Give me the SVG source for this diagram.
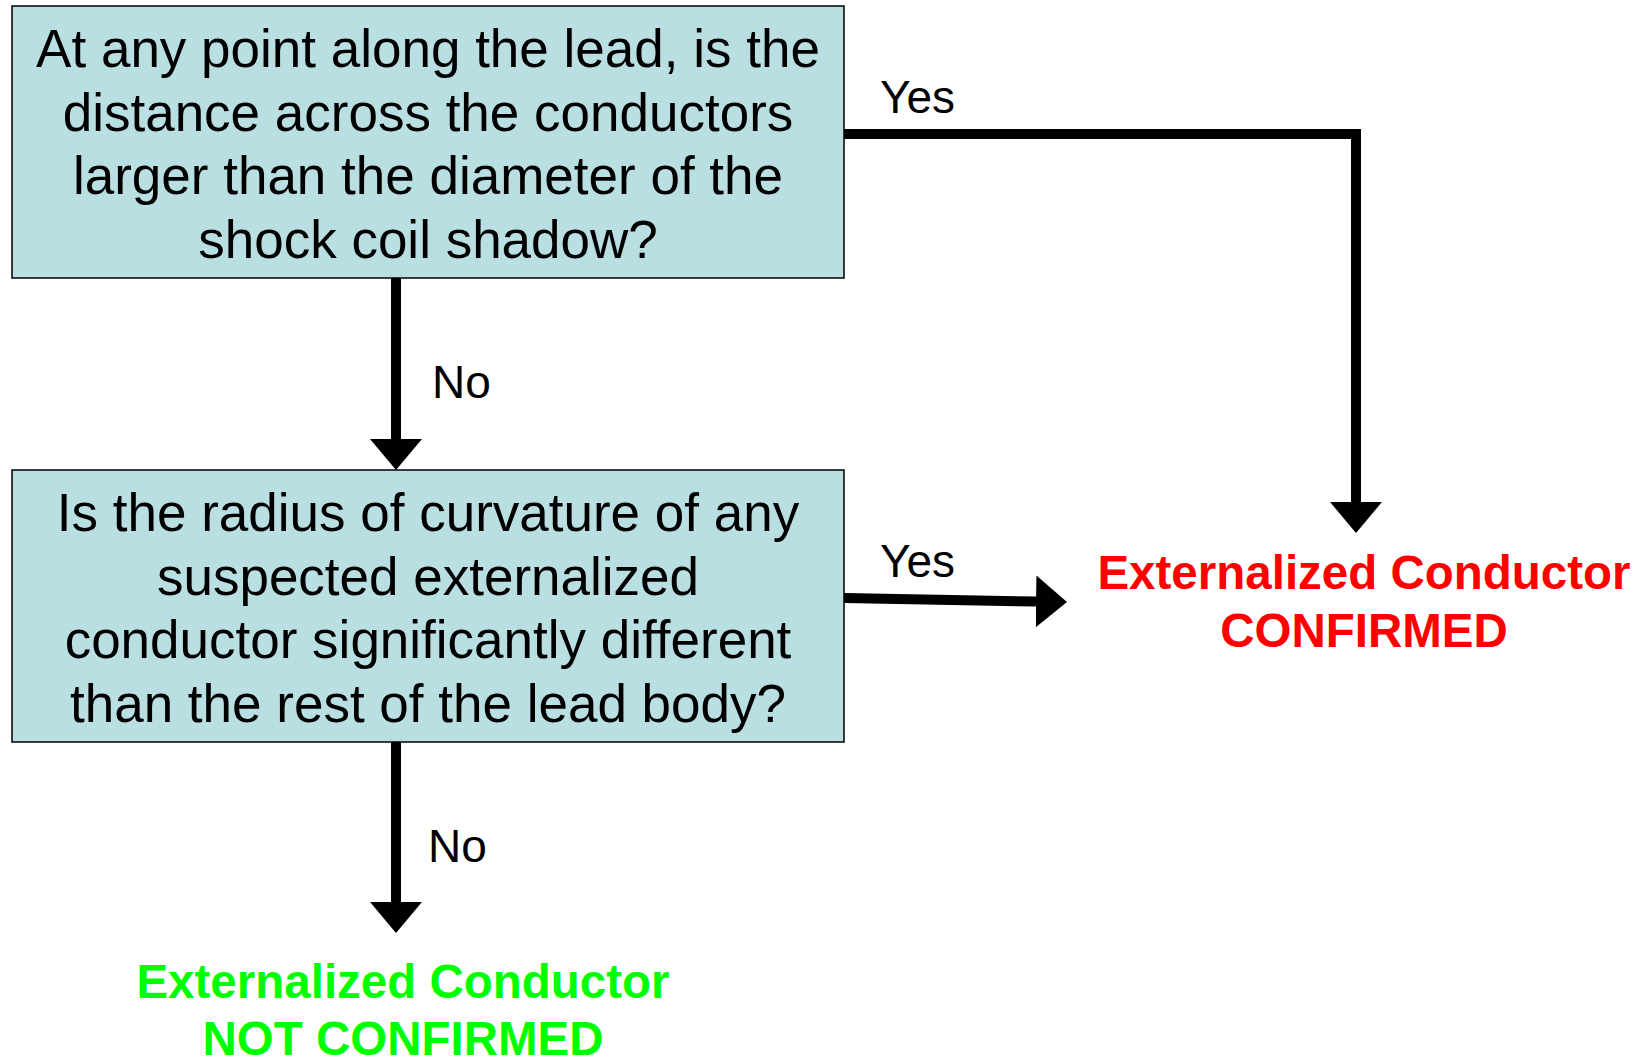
<svg xmlns="http://www.w3.org/2000/svg" width="1651" height="1058" viewBox="0 0 1651 1058">
<style>
.box{fill:#B9DFE3;stroke:#000;stroke-width:1.5}
.q{font-family:"Liberation Sans",Arial,sans-serif;font-size:53px;fill:#000;text-anchor:middle}
.lbl{font-family:"Liberation Sans",Arial,sans-serif;font-size:46px;fill:#000}
.res{font-family:"Liberation Sans",Arial,sans-serif;font-size:47.5px;font-weight:bold;text-anchor:middle}
.conn{fill:none;stroke:#000;stroke-width:10;marker-end:url(#ah)}
</style>
<defs>
<marker id="ah" markerUnits="userSpaceOnUse" markerWidth="32" markerHeight="54" refX="0" refY="26" orient="auto" viewBox="0 0 32 54">
<path d="M0,0 L31,26 L0,52 Z" fill="#000"/>
</marker>
</defs>
<rect width="1651" height="1058" fill="#fff"/>
<g id="connectors">
<path class="conn" d="M844,134 H1356 V502"/>
<path class="conn" d="M396,278 V439"/>
<path class="conn" d="M844,598 L1036,601.5"/>
<path class="conn" d="M396,742 V902"/>
<text class="lbl" x="880" y="113">Yes</text>
<text class="lbl" x="432" y="398">No</text>
<text class="lbl" x="880" y="577">Yes</text>
<text class="lbl" x="428" y="862">No</text>
</g>
<g id="q1">
<rect class="box" x="12" y="6" width="832" height="272"/>
<text class="q" x="428" y="67">At any point along the lead, is the</text>
<text class="q" x="428" y="130.5">distance across the conductors</text>
<text class="q" x="428" y="194">larger than the diameter of the</text>
<text class="q" x="428" y="257.5">shock coil shadow?</text>
</g>
<g id="q2">
<rect class="box" x="12" y="470" width="832" height="272"/>
<text class="q" x="428" y="531">Is the radius of curvature of any</text>
<text class="q" x="428" y="594.5">suspected externalized</text>
<text class="q" x="428" y="658">conductor significantly different</text>
<text class="q" x="428" y="721.5">than the rest of the lead body?</text>
</g>
<g id="confirmed">
<text class="res" x="1364" y="589" fill="#FF0000">Externalized Conductor</text>
<text class="res" x="1364" y="647" fill="#FF0000">CONFIRMED</text>
</g>
<g id="not-confirmed">
<text class="res" x="403" y="998" fill="#00FF00">Externalized Conductor</text>
<text class="res" x="403" y="1055" fill="#00FF00">NOT CONFIRMED</text>
</g>
</svg>
